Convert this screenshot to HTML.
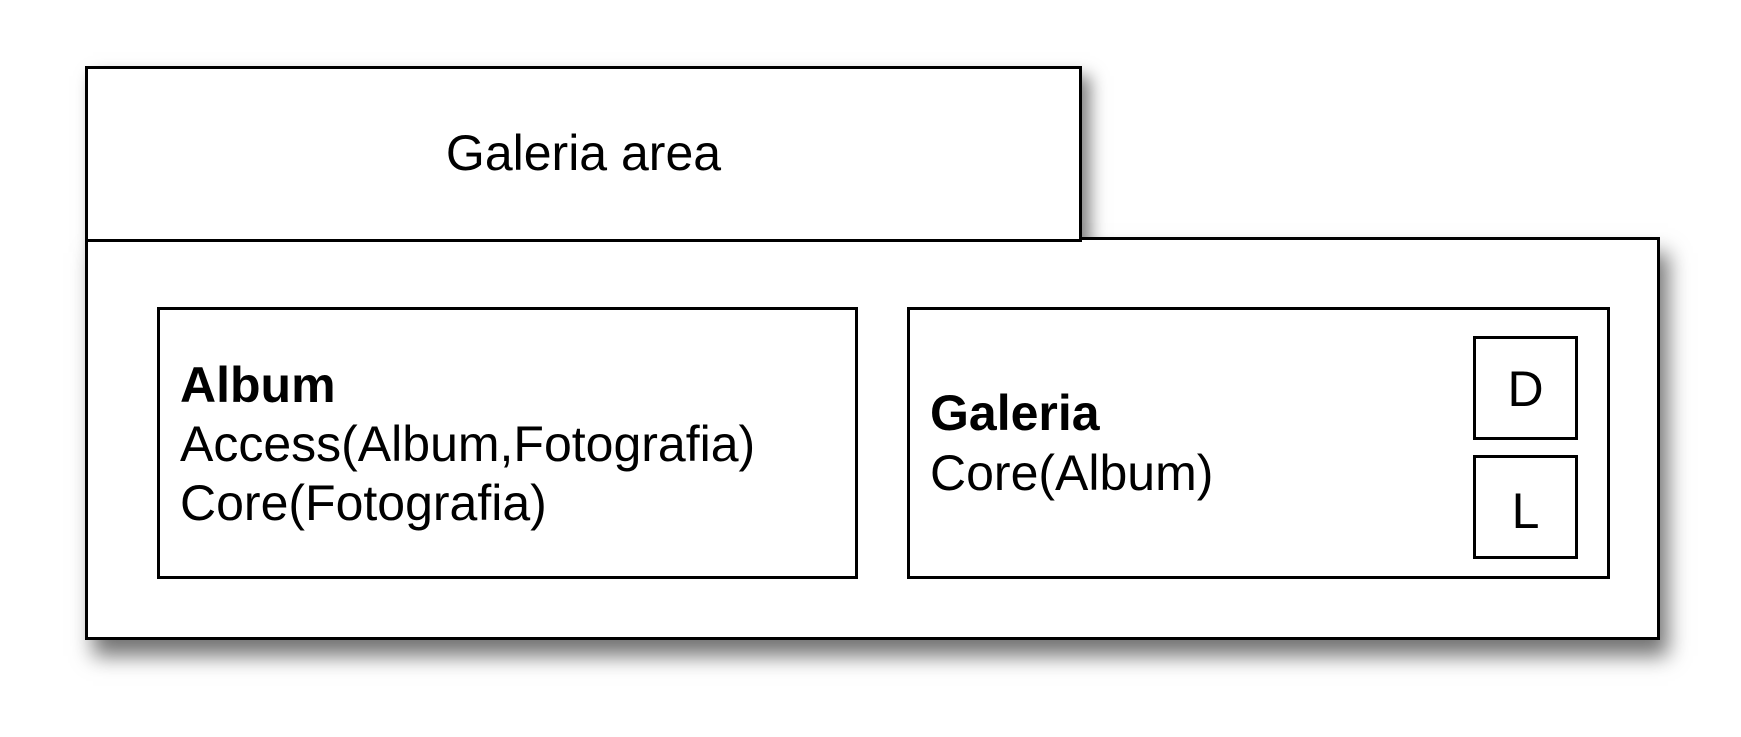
<!DOCTYPE html>
<html><head><style>
body{margin:0;width:1741px;height:737px;background:#fff;position:relative;overflow:hidden;font-family:"Liberation Sans",Arial,sans-serif;}
.b{position:absolute;border:3px solid #000;background:#fff;box-sizing:border-box;}
.t{position:absolute;font-size:50px;line-height:1;white-space:nowrap;color:#000;}
</style></head><body>
<div class="b" style="left:85px;top:66px;width:997px;height:176px;border-color:transparent;box-shadow:8px 10px 16px rgba(0,0,0,0.5);"></div>
<div class="b" style="left:85px;top:237px;width:1575px;height:403px;box-shadow:8px 16px 20px rgba(0,0,0,0.55);"></div>
<div class="b" style="left:85px;top:66px;width:997px;height:176px;"></div>
<div class="t" style="left:85px;width:997px;text-align:center;top:128px;">Galeria area</div>
<div class="b" style="left:157px;top:307px;width:701px;height:272px;"></div>
<div class="t" style="left:180px;top:360px;font-weight:bold;">Album</div>
<div class="t" style="left:180px;top:419px;">Access(Album,Fotografia)</div>
<div class="t" style="left:180px;top:478px;">Core(Fotografia)</div>
<div class="b" style="left:907px;top:307px;width:703px;height:272px;"></div>
<div class="t" style="left:930px;top:388px;font-weight:bold;">Galeria</div>
<div class="t" style="left:930px;top:448px;">Core(Album)</div>
<div class="b" style="left:1473px;top:336px;width:105px;height:104px;"></div>
<div class="t" style="left:1473px;width:105px;text-align:center;top:364px;">D</div>
<div class="b" style="left:1473px;top:455px;width:105px;height:104px;"></div>
<div class="t" style="left:1473px;width:105px;text-align:center;top:486px;">L</div>
</body></html>
